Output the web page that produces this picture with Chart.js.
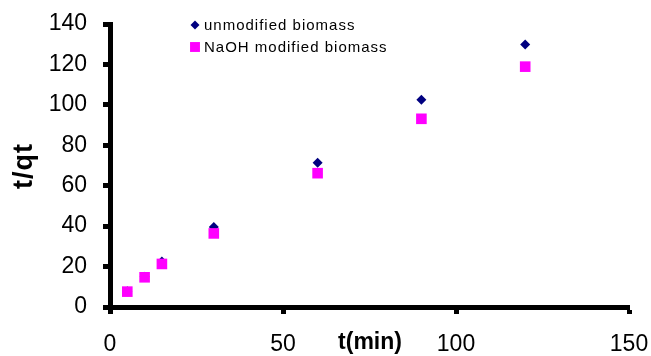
<!DOCTYPE html>
<html>
<head>
<meta charset="utf-8">
<script src="https://cdn.jsdelivr.net/npm/chart.js@4/dist/chart.umd.min.js"></script>
<style>
    html, body { margin: 0; padding: 0; background: #fff; }
    canvas { display: block; }
</style>
</head>
<body>
<canvas id="kinetics-chart" width="651" height="356"></canvas>
<script>
const timeMin = [5, 10, 15, 30, 60, 90, 120];
const unmodifiedValues = [7.8, 15.0, 22.5, 39.6, 71.4, 102.5, 129.9];
const naohValues = [7.6, 14.7, 21.3, 36.4, 66.2, 93.1, 118.9];
const seriesLabels = ["unmodified biomass", "NaOH modified biomass"];
const xTickValues = [0, 50, 100, 150];
const yTickValues = [0, 20, 40, 60, 80, 100, 120, 140];

const FONT = "'Liberation Sans', Arial, sans-serif";
const NAVY = "#000080";
const MAGENTA = "#ff00ff";

function toPoints(values) {
    return timeMin.map((t, i) => ({ x: t, y: values[i] }));
}

// legend sits inside the plot, top left, and axis titles sit where excel put them
const annotations = {
    id: "annotations",
    afterDraw(chart) {
        const ctx = chart.ctx;
        const area = chart.chartArea;
        ctx.save();

        const legendX = area.left + 85;
        const rows = [
            { y: area.top + 1, style: "rectRot", color: NAVY, r: 4.5 },
            { y: area.top + 23, style: "rect", color: MAGENTA, r: 7 },
        ];
        rows.forEach((row, i) => {
            ctx.fillStyle = row.color;
            ctx.strokeStyle = row.color;
            Chart.helpers.drawPoint(ctx, { pointStyle: row.style, radius: row.r, borderWidth: 0 }, legendX, row.y);
            ctx.fillStyle = "#000";
            ctx.font = "15px " + FONT;
            ctx.letterSpacing = "1px";
            ctx.textAlign = "left";
            ctx.textBaseline = "middle";
            ctx.fillText(seriesLabels[i], legendX + 9, row.y + 1);
        });

        ctx.fillStyle = "#000";
        ctx.font = "bold 23px " + FONT;
        ctx.letterSpacing = "0px";
        ctx.textAlign = "center";
        ctx.textBaseline = "middle";
        ctx.fillText("t(min)", 370, 343);

        ctx.translate(25, 166);
        ctx.rotate(-Math.PI / 2);
        ctx.font = "bold 27px " + FONT;
        ctx.letterSpacing = "1px";
        ctx.fillText("t/qt", 0, 0);
        ctx.restore();
    },
};

const ctx = document.getElementById("kinetics-chart").getContext("2d");

new Chart(ctx, {
    type: "scatter",
    data: {
        datasets: [
            {
                label: seriesLabels[1],
                data: toPoints(naohValues),
                pointStyle: "rect",
                pointRadius: 7.5,
                pointHoverRadius: 7.5,
                backgroundColor: MAGENTA,
                borderColor: MAGENTA,
                borderWidth: 0,
                order: 0,
            },
            {
                label: seriesLabels[0],
                data: toPoints(unmodifiedValues),
                pointStyle: "rectRot",
                pointRadius: 5,
                pointHoverRadius: 5,
                backgroundColor: NAVY,
                borderColor: NAVY,
                borderWidth: 0,
                order: 1,
            },
        ],
    },
    options: {
        responsive: false,
        animation: false,
        events: [],
        layout: { padding: { left: 0, right: 22, top: 24, bottom: 0 } },
        plugins: {
            legend: { display: false },
            tooltip: { enabled: false },
        },
        scales: {
            x: {
                type: "linear",
                min: 0,
                max: 150,
                afterBuildTicks: (scale) => {
                    scale.ticks = xTickValues.map((v) => ({ value: v }));
                },
                afterFit: (scale) => {
                    scale.height = 49;
                    scale.paddingLeft = 0;
                    scale.paddingRight = 0;
                },
                border: { display: true, color: "#000", width: 5 },
                grid: {
                    drawOnChartArea: false,
                    drawTicks: true,
                    tickLength: 7,
                    tickWidth: 5,
                    tickColor: "#000",
                },
                ticks: {
                    color: "#000",
                    padding: 17,
                    font: { family: FONT, size: 23 },
                },
            },
            y: {
                min: 0,
                max: 140,
                afterBuildTicks: (scale) => {
                    scale.ticks = yTickValues.map((v) => ({ value: v }));
                },
                afterFit: (scale) => {
                    scale.width = 110;
                    scale.paddingTop = 0;
                    scale.paddingBottom = 0;
                },
                border: { display: true, color: "#000", width: 5 },
                grid: {
                    drawOnChartArea: false,
                    drawTicks: true,
                    tickLength: 7,
                    tickWidth: 5,
                    tickColor: "#000",
                },
                ticks: {
                    color: "#000",
                    padding: 16,
                    font: { family: FONT, size: 23 },
                },
            },
        },
    },
    plugins: [annotations],
});
</script>
</body>
</html>
